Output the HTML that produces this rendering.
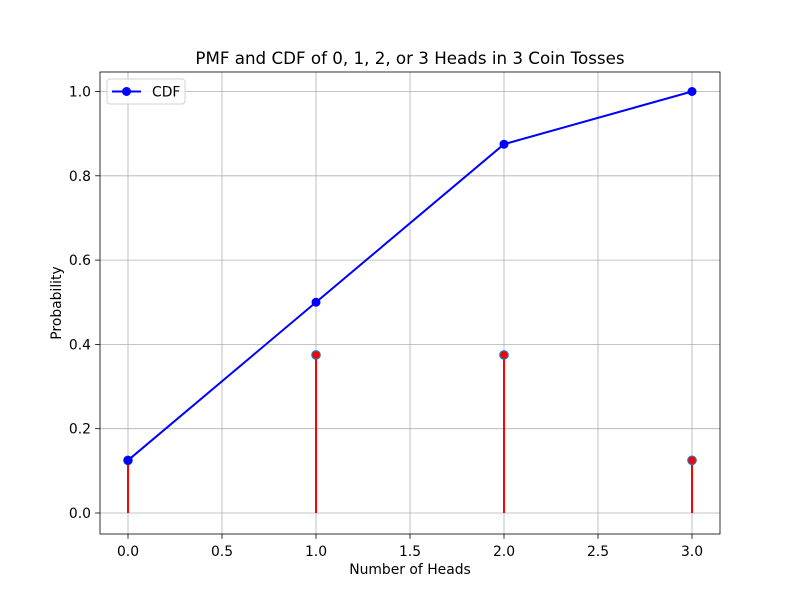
<!DOCTYPE html>
<html><head><meta charset="utf-8"><style>body{margin:0;background:#fff}svg text{font-family:"DejaVu Sans","Liberation Sans",sans-serif}</style></head>
<body>
<svg id="c" width="800" height="600" xmlns="http://www.w3.org/2000/svg"></svg>
<script>
const xs=[0,1,2,3];
const pmf=[0.125,0.375,0.375,0.125];
const cdf=[0.125,0.5,0.875,1.0];
const xTicks=[0,0.5,1,1.5,2,2.5,3];
const xTickLabels=["0.0","0.5","1.0","1.5","2.0","2.5","3.0"];
const yTicks=[0,0.2,0.4,0.6,0.8,1.0];
const yTickLabels=["0.0","0.2","0.4","0.6","0.8","1.0"];
const L=100,R=720,T=72,B=534;
const X=v=>128+v*188, Y=v=>513-v*421.5;
const s=document.getElementById('c'),NS="http://www.w3.org/2000/svg";
function mk(t,a,p){const e=document.createElementNS(NS,t);for(const k in a)e.setAttribute(k,a[k]);(p||s).appendChild(e);return e;}
xTicks.forEach((t,i)=>{
const g=mk('line',{x1:X(t),x2:X(t),y1:T,y2:B,stroke:'#b0b0b0','stroke-width':0.8});


mk('line',{x1:X(t),x2:X(t),y1:B,y2:B+4.9,stroke:'#000','stroke-width':0.8});
const l=mk('text',{x:X(t),y:B+22,'font-size':13.9,'text-anchor':'middle'});l.textContent=xTickLabels[i];


});
yTicks.forEach((t,i)=>{
const g=mk('line',{x1:L,x2:R,y1:Y(t),y2:Y(t),stroke:'#b0b0b0','stroke-width':0.8});


mk('line',{x1:L-4.9,x2:L,y1:Y(t),y2:Y(t),stroke:'#000','stroke-width':0.8});
const l=mk('text',{x:L-9,y:Y(t)+5,'font-size':13.9,'text-anchor':'end'});l.textContent=yTickLabels[i];


});
xs.forEach((x,i)=>{
const st=mk('line',{x1:X(x),x2:X(x),y1:Y(0),y2:Y(pmf[i]),stroke:'red','stroke-width':2});


const m=mk('circle',{cx:X(x),cy:Y(pmf[i]),r:4.2,fill:'red',stroke:'#1f77b4','stroke-width':1.2});


});
const pl=mk('polyline',{points:xs.map((x,i)=>X(x)+','+Y(cdf[i])).join(' '),fill:'none',stroke:'blue','stroke-width':2});


xs.forEach((x,i)=>{const m=mk('circle',{cx:X(x),cy:Y(cdf[i]),r:4.5,fill:'blue'});

});
mk('rect',{x:L,y:T,width:R-L,height:B-T,fill:'none',stroke:'#000','stroke-width':0.8});
const ti=mk('text',{x:410,y:64,'font-size':16.7,'text-anchor':'middle'});ti.textContent="PMF and CDF of 0, 1, 2, or 3 Heads in 3 Coin Tosses";


const xl=mk('text',{x:410,y:574,'font-size':13.9,'text-anchor':'middle'});xl.textContent="Number of Heads";


const yl=mk('text',{x:0,y:0,'font-size':13.9,'text-anchor':'middle',transform:'translate(61,303) rotate(-90)'});yl.textContent="Probability";


const lg=mk('g',{});


mk('rect',{x:107,y:79,width:78,height:25,rx:3,fill:'#fff','fill-opacity':0.8,stroke:'#d0d0d0'},lg);
mk('line',{x1:112,x2:141,y1:91.5,y2:91.5,stroke:'blue','stroke-width':2},lg);
mk('circle',{cx:126.5,cy:91.5,r:4.5,fill:'blue'},lg);
const lt=mk('text',{x:152,y:96.5,'font-size':13.9},lg);lt.textContent="CDF";
</script>
</body></html>
